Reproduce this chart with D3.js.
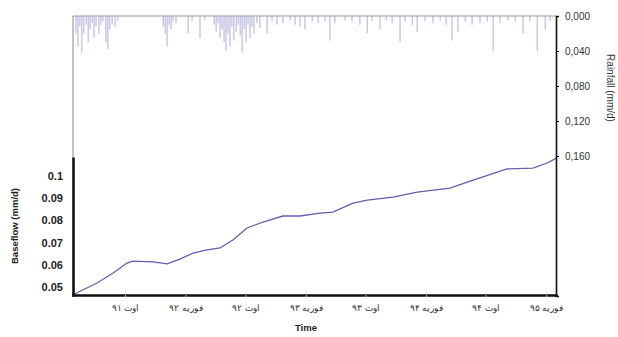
<!DOCTYPE html>
<html>
<head>
<meta charset="utf-8">
<script src="https://cdn.jsdelivr.net/npm/d3@7"></script>
<style>
  html, body { margin: 0; padding: 0; background: #fff; }
  svg { display: block; font-family: "Liberation Sans", Arial, sans-serif; }
</style>
</head>
<body>
<svg id="chart" width="618" height="337"></svg>
<script>
// Record start date; all series below are indexed in days from it.
const startDate = new Date(1991, 1, 24);
const endDay = 1468;

// Baseflow (mm/d): day offset and value
const baseflowDays = [0, 73, 122, 164, 182, 243, 286, 325, 365, 407, 447, 486, 529, 578, 638, 690,
  751, 790, 851, 894, 973, 1046, 1146, 1216, 1319, 1398, 1441, 1468];
const baseflowValues = [0.0465, 0.0518, 0.0563, 0.0608, 0.0617, 0.0613, 0.0604, 0.0626, 0.0653, 0.0667,
  0.0676, 0.0712, 0.0766, 0.0793, 0.0820, 0.0820, 0.0833, 0.0838, 0.0878, 0.0892, 0.0905, 0.0928,
  0.0946, 0.0982, 0.1032, 0.1036, 0.1059, 0.1080];

// Rainfall (mm/d): day offset and value of each wet day
const rainDays = [9, 15, 21, 27, 33, 40, 46, 52, 58, 64, 70, 79, 85, 91, 100, 106, 112, 119, 128, 137,
  274, 280, 286, 292, 298, 304, 313, 350, 362, 386, 401,
  429, 435, 441, 447, 453, 459, 465, 471, 477, 483, 489, 496, 502, 508, 514, 520, 526, 532, 538, 544, 550, 559, 568,
  590, 605, 620, 638, 660, 675, 690, 705, 727, 745,
  766, 781, 796, 827, 848, 872, 894, 909, 933, 952, 970, 994, 1009, 1031, 1046, 1070, 1094, 1116, 1134,
  1152, 1170, 1192, 1213, 1237, 1259, 1277, 1298, 1322, 1344, 1368, 1389, 1411, 1435, 1450];
const rainValues = [0.020, 0.035, 0.012, 0.042, 0.020, 0.010, 0.030, 0.015, 0.008, 0.025, 0.012, 0.020, 0.010, 0.006, 0.030, 0.038, 0.015, 0.010, 0.012, 0.006,
  0.012, 0.020, 0.035, 0.010, 0.015, 0.006, 0.008, 0.020, 0.006, 0.025, 0.005,
  0.010, 0.018, 0.008, 0.025, 0.015, 0.030, 0.040, 0.020, 0.035, 0.012, 0.028, 0.018, 0.010, 0.022, 0.042, 0.015, 0.030, 0.010, 0.025, 0.012, 0.020, 0.008, 0.014,
  0.020, 0.006, 0.010, 0.008, 0.005, 0.010, 0.012, 0.015, 0.006, 0.008,
  0.006, 0.028, 0.008, 0.005, 0.006, 0.010, 0.020, 0.006, 0.015, 0.005, 0.008, 0.030, 0.006, 0.010, 0.018, 0.006, 0.008, 0.005, 0.010,
  0.028, 0.018, 0.006, 0.010, 0.008, 0.006, 0.040, 0.008, 0.005, 0.006, 0.020, 0.006, 0.040, 0.015, 0.006];

// Time axis ticks and their labels
const tickDates = [new Date(1991, 7, 1), new Date(1992, 1, 1), new Date(1992, 7, 1), new Date(1993, 1, 1),
  new Date(1993, 7, 1), new Date(1994, 1, 1), new Date(1994, 7, 1), new Date(1995, 1, 1)];
const tickLabels = ["اوت ۹۱", "فوریه ۹۲", "اوت ۹۲", "فوریه ۹۳", "اوت ۹۳", "فوریه ۹۴", "اوت ۹۴", "فوریه ۹۵"];

const baseflowTicks = [0.05, 0.06, 0.07, 0.08, 0.09, 0.1];
const rainTicks = [0, 0.04, 0.08, 0.12, 0.16];

const svg = d3.select("#chart");
const plotLeft = 73, plotRight = 556, plotTop = 16, plotBottom = 295;

const dayToDate = d => d3.timeDay.offset(startDate, d);

const x = d3.scaleTime()
  .domain([startDate, dayToDate(endDay)])
  .range([plotLeft, plotRight]);
const yBase = d3.scaleLinear().domain([0.0464, 0.1086]).range([plotBottom, 157]);
const yRain = d3.scaleLinear().domain([0, 0.32]).range([plotTop, plotBottom + 1]);

// Frame: thin grey top and upper-left edges
svg.append("line").attr("x1", plotLeft).attr("x2", plotRight).attr("y1", plotTop).attr("y2", plotTop)
  .attr("stroke", "#999").attr("stroke-width", 1);
svg.append("line").attr("x1", plotLeft).attr("x2", plotLeft).attr("y1", plotTop).attr("y2", 158)
  .attr("stroke", "#888").attr("stroke-width", 1);

// Rainfall hanging bars
const rain = rainDays.map((d, i) => ({ date: dayToDate(d), v: rainValues[i] }));
svg.append("g").selectAll("line").data(rain).join("line")
  .attr("x1", d => x(d.date)).attr("x2", d => x(d.date))
  .attr("y1", yRain(0)).attr("y2", d => yRain(d.v))
  .attr("stroke", "#a4a4d6").attr("stroke-width", 0.9);

// Baseflow line
const base = baseflowDays.map((d, i) => ({ date: dayToDate(d), v: baseflowValues[i] }));
svg.append("path").datum(base)
  .attr("fill", "none").attr("stroke", "#6060ad").attr("stroke-width", 1.3)
  .attr("d", d3.line().x(d => x(d.date)).y(d => yBase(d.v)));

// Left baseflow axis
const gl = svg.append("g").attr("transform", `translate(${plotLeft},0)`)
  .call(d3.axisLeft(yBase).tickValues(baseflowTicks).tickSize(0).tickPadding(10)
    .tickFormat(d3.format("")));
gl.select(".domain").attr("stroke", "#111").attr("stroke-width", 2.6);
gl.selectAll("text").attr("font-size", 11).attr("font-weight", "bold").attr("fill", "#222");

// Right rainfall axis
const gr = svg.append("g").attr("transform", `translate(${plotRight},0)`)
  .call(d3.axisRight(yRain).tickValues(rainTicks).tickSize(3).tickPadding(6)
    .tickFormat(d => d3.format(".3f")(d).replace(".", ",")));
gr.select(".domain").attr("stroke", "#111").attr("stroke-width", 1.6);
gr.selectAll("text").attr("font-size", 10).attr("fill", "#333");

// Bottom time axis
const gb = svg.append("g").attr("transform", `translate(0,${plotBottom})`)
  .call(d3.axisBottom(x).tickValues(tickDates).tickSize(2).tickPadding(8)
    .tickFormat((d, i) => tickLabels[i]));
gb.select(".domain").attr("stroke", "#111").attr("stroke-width", 2.6);
gb.selectAll(".tick line").attr("stroke", "#bbb");
gb.selectAll("text").attr("font-size", 9).attr("fill", "#333");

// Axis titles
svg.append("text").attr("transform", "translate(18,226) rotate(-90)")
  .attr("text-anchor", "middle").attr("font-size", 9.5).attr("font-weight", "bold")
  .attr("fill", "#222").text("Baseflow (mm/d)");
svg.append("text").attr("transform", "translate(607,88) rotate(90)")
  .attr("text-anchor", "middle").attr("font-size", 10).attr("fill", "#333")
  .text("Rainfall (mm/d)");
svg.append("text").attr("x", 306).attr("y", 331)
  .attr("text-anchor", "middle").attr("font-size", 9.5).attr("font-weight", "bold")
  .attr("fill", "#222").text("Time");
</script>
</body>
</html>
